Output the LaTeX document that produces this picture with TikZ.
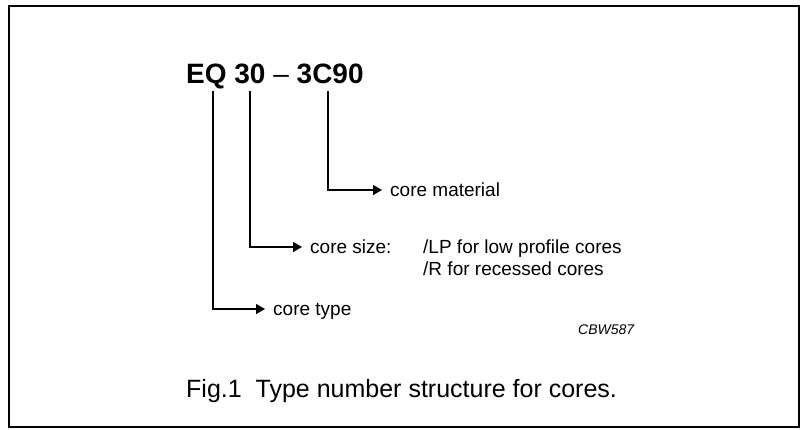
\documentclass[tikz,border=0pt]{standalone}
\usepackage{fontspec}
\setmainfont{Liberation Sans}
\usetikzlibrary{arrows.meta}
\begin{document}
\begin{tikzpicture}[x=1pt,y=-1pt,
  lbl/.style={inner sep=0pt,anchor=west,text height=12pt,text depth=0pt,font=\fontsize{19}{23}\selectfont},
  sub/.style={inner sep=0pt,anchor=base west,font=\fontsize{19}{23}\selectfont},
  conn/.style={line width=1.3pt,-{Triangle[length=9pt,width=10pt]},shorten >=8pt},
  frame/.style={line width=2pt}]
\useasboundingbox (0,0) rectangle (802,429);
\draw[frame] (9,6) rectangle (799,427);
\node[inner sep=0pt,anchor=base west,font=\fontsize{28}{34}\selectfont] (title) at (186,83)
  {\textbf{EQ 30} – \textbf{3C90}};
\coordinate (t1) at (213,91);
\coordinate (t2) at (250,91);
\coordinate (t3) at (328,91);
\node[lbl] (mat) at (390,190) {core material};
\node[lbl] (size) at (310,247) {core size:};
\node[sub] (lp) at (423,253) {/LP for low profile cores};
\node[sub] (rc) at (423,275.5) {/R for recessed cores};
\node[lbl] (type) at (273,309) {core type};
\node[inner sep=0pt,anchor=base west,font=\fontsize{14}{17}\selectfont\itshape] (cbw) at (578,334) {CBW587};
\node[inner sep=0pt,anchor=base west,font=\fontsize{25}{30}\selectfont] (cap) at (186,397)
  {Fig.1\hspace{0.556em}Type number structure for cores.};
\draw[conn] (t3) |- (mat.west);
\draw[conn] (t2) |- (size.west);
\draw[conn] (t1) |- (type.west);
\end{tikzpicture}
\end{document}
